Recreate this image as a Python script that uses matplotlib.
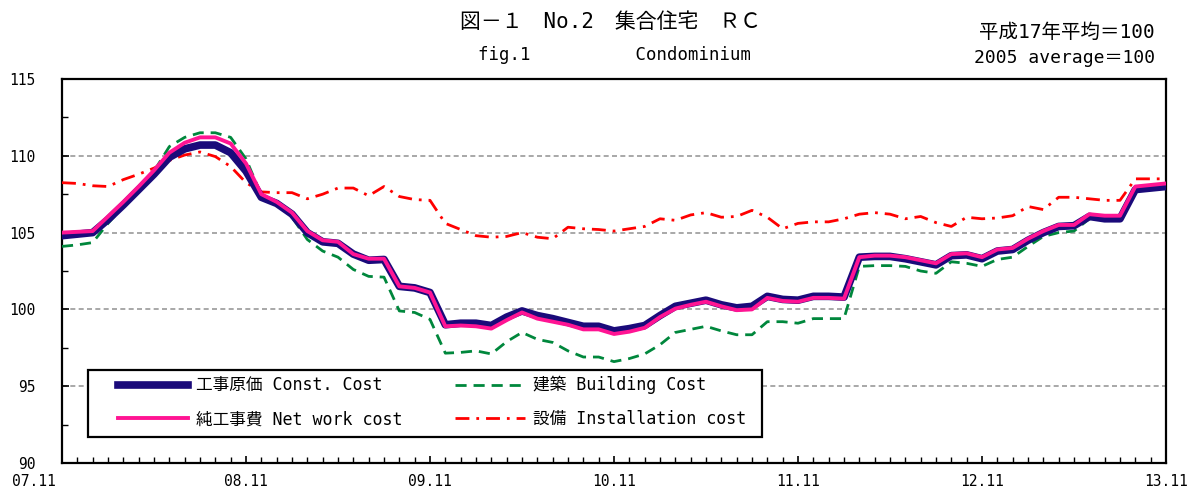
import matplotlib
matplotlib.use("Agg")
import matplotlib.pyplot as plt
from matplotlib.ticker import FixedLocator, MultipleLocator
from matplotlib.patches import Rectangle
from matplotlib.transforms import ScaledTranslation

plt.rcParams['font.family'] = ['DejaVu Sans Mono', 'Noto Sans CJK JP']

months = list(range(73))
tick_pos = [0, 12, 24, 36, 48, 60, 72]
tick_labels = ["07.11", "08.11", "09.11", "10.11", "11.11", "12.11", "13.11"]

const_cost = [104.8, 104.9, 105.0, 105.85, 106.8, 107.8, 108.8, 109.9, 110.45, 110.7, 110.7, 110.2,
              109.0, 107.3, 106.9, 106.2, 105.0, 104.4, 104.3, 103.6, 103.2, 103.25, 101.5, 101.4,
              101.1, 99.0, 99.1, 99.1, 98.95, 99.5, 99.9, 99.6, 99.4, 99.15, 98.9, 98.9,
              98.6, 98.75, 98.95, 99.6, 100.2, 100.4, 100.6, 100.3, 100.1, 100.2, 100.85, 100.65,
              100.6, 100.85, 100.85, 100.8, 103.4, 103.45, 103.45, 103.3, 103.1, 102.9, 103.5, 103.55,
              103.3, 103.8, 103.9, 104.5, 105.0, 105.4, 105.45, 106.05, 105.9, 105.9, 107.8, 107.9,
              108.0]
net_work = [105.0, 105.05, 105.1, 106.05, 107.0, 108.0, 109.05, 110.2, 110.85, 111.2, 111.2, 110.8,
            109.5, 107.5, 107.0, 106.3, 105.1, 104.5, 104.4, 103.6, 103.3, 103.3, 101.5, 101.4,
            101.1, 98.9, 98.95, 98.9, 98.75, 99.3, 99.8, 99.4, 99.2, 99.0, 98.7, 98.7,
            98.4, 98.55, 98.8, 99.5, 100.05, 100.3, 100.5, 100.2, 99.95, 100.0, 100.75, 100.55,
            100.5, 100.75, 100.75, 100.7, 103.4, 103.5, 103.5, 103.4, 103.2, 103.0, 103.6, 103.65,
            103.4, 103.9, 104.0, 104.6, 105.1, 105.5, 105.5, 106.2, 106.1, 106.1, 108.0, 108.1,
            108.2]
building = [104.1, 104.2, 104.35, 105.6, 106.7, 107.8, 109.0, 110.6, 111.2, 111.5, 111.5, 111.2,
            109.8, 107.45, 106.9, 106.0, 104.55, 103.8, 103.4, 102.6, 102.15, 102.1, 99.9, 99.8,
            99.35, 97.15, 97.2, 97.3, 97.1, 97.9, 98.5, 98.05, 97.85, 97.3, 96.9, 96.9,
            96.6, 96.8, 97.1, 97.7, 98.5, 98.7, 98.9, 98.6, 98.35, 98.35, 99.2, 99.2,
            99.1, 99.4, 99.4, 99.4, 102.8, 102.85, 102.85, 102.8, 102.5, 102.35, 103.1, 103.0,
            102.8, 103.25, 103.4, 104.1, 104.75, 105.0, 105.1, 105.9, 105.85, 105.85, 107.85, 108.0,
            108.1]
installation = [108.25, 108.2, 108.05, 108.0, 108.45, 108.8, 109.2, 109.7, 110.05, 110.25, 109.95, 109.3,
                108.25, 107.65, 107.6, 107.6, 107.2, 107.5, 107.9, 107.9, 107.4, 108.0, 107.35, 107.15,
                107.1, 105.6, 105.2, 104.8, 104.7, 104.75, 105.0, 104.7, 104.6, 105.35, 105.25, 105.2,
                105.1, 105.25, 105.4, 105.9, 105.8, 106.15, 106.3, 106.0, 106.05, 106.45, 106.0, 105.25,
                105.6, 105.7, 105.7, 105.9, 106.2, 106.3, 106.2, 105.9, 106.05, 105.65, 105.4, 106.0,
                105.9, 105.95, 106.1, 106.7, 106.5, 107.3, 107.3, 107.2, 107.1, 107.1, 108.5, 108.5,
                108.5]

labels = ["工事原価 Const. Cost", "純工事費 Net work cost", "建築 Building Cost", "設備 Installation cost"]

W, H = 1189, 492
fig = plt.figure(figsize=(W / 100, H / 100), dpi=100)
ax = fig.add_axes([62 / W, 1 - 463 / H, (1166 - 62) / W, (463 - 79) / H])

l1, = ax.plot(months, const_cost, color="#1a0a7a", lw=5.5, zorder=4)
l2, = ax.plot(months, net_work, color="#ff1493", lw=2.8, zorder=5)
l3, = ax.plot(months, building, color="#00873c", lw=2.0, ls=(0, (4, 2.5)), zorder=3)
l4, = ax.plot(months, installation, color="#ff0000", lw=2.0, ls=(0, (5, 2.5, 1, 2.5)), zorder=3)

ax.set_xlim(0, 72)
ax.set_ylim(90, 115)
ax.xaxis.set_major_locator(FixedLocator(tick_pos))
ax.set_xticklabels(tick_labels)
ax.xaxis.set_minor_locator(MultipleLocator(1))
ax.yaxis.set_major_locator(MultipleLocator(5))
ax.yaxis.set_minor_locator(MultipleLocator(2.5))
ax.tick_params(axis='both', which='both', direction='in', labelsize=10.5, color='black')
ax.tick_params(axis='both', which='major', length=5, width=1.2)
ax.tick_params(axis='both', which='minor', length=4, width=1.0)
ax.tick_params(axis='x', pad=8)
ax.tick_params(axis='y', pad=19)

first = ax.get_xticklabels()[0]
first.set_transform(first.get_transform() + ScaledTranslation(-0.28, 0, fig.dpi_scale_trans))

for y in [95, 100, 105, 110]:
    ax.axhline(y, color="#999999", lw=1.2, ls=(0, (3, 2)), zorder=1)

for s in ax.spines.values():
    s.set_linewidth(1.6)
    s.set_color('black')

# legend frame
ax.add_patch(Rectangle((88 / W, 1 - 437 / H), (762 - 88) / W, (437 - 370) / H,
                       transform=fig.transFigure, facecolor='white', edgecolor='black',
                       lw=1.6, zorder=9, clip_on=False))
leg = ax.legend([l1, l2, l3, l4], labels, ncol=2, loc='upper left',
                bbox_to_anchor=(118 / W, 1 - 376 / H), bbox_transform=fig.transFigure,
                fontsize=12, handlelength=4.2, handletextpad=0.5, borderpad=0,
                labelspacing=0.95, columnspacing=3.1, frameon=False, borderaxespad=0)
leg.set_zorder(10)

fig.text(610 / W, 1 - 22 / H, "図－１　No.2　集合住宅　ＲＣ", ha='center', va='center', fontsize=15)
fig.text(615 / W, 1 - 55 / H, "fig.1          Condominium", ha='center', va='center', fontsize=12.5)
fig.text(1155 / W, 1 - 32 / H, "平成17年平均＝100", ha='right', va='center', fontsize=14)
fig.text(1155 / W, 1 - 58 / H, "2005 average＝100", ha='right', va='center', fontsize=13)

fig.savefig("out.png", dpi=100)
